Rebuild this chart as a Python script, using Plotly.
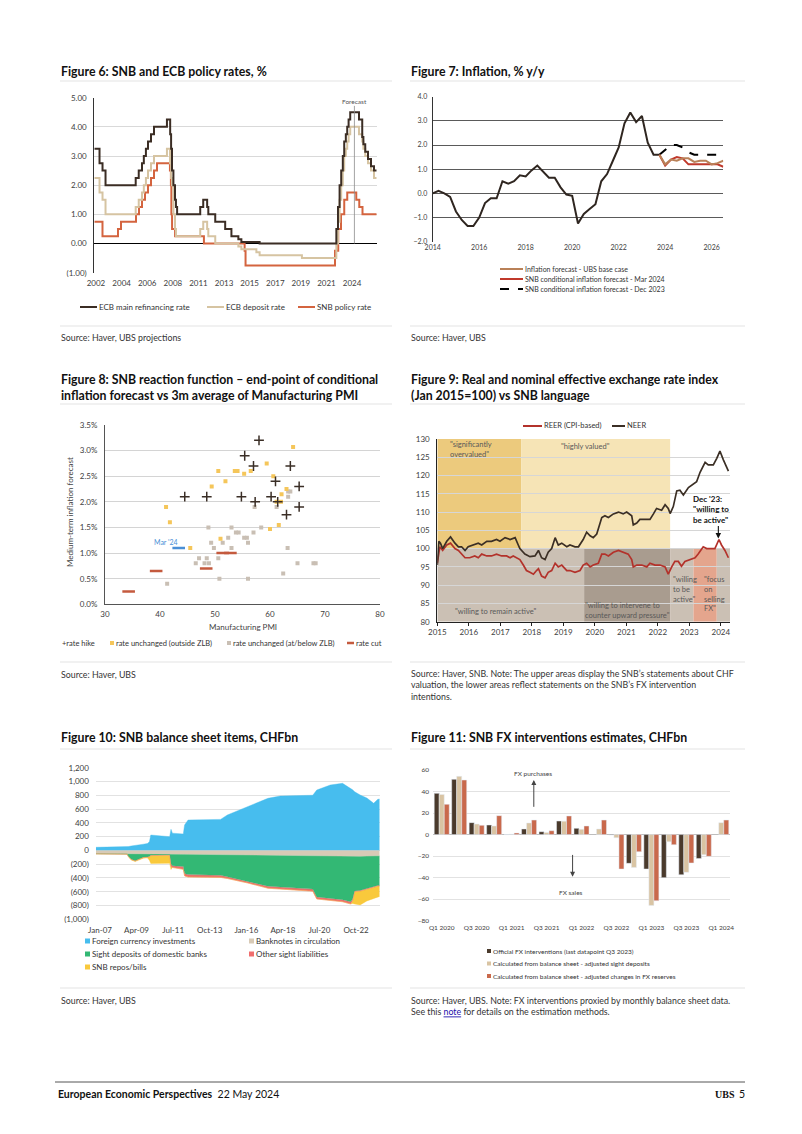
import plotly.graph_objects as go

W, H = 802, 1134
FONT = "Lato"
INK = "#333333"
TICK = "#404040"

# ---------------- Figure 6: policy rates (step series, change dates) ----------------
mro_dates = ["2002-07-01","2002-12-06","2003-03-07","2003-06-06","2005-12-06","2006-03-08","2006-06-15","2006-08-09",
             "2006-10-11","2006-12-13","2007-03-14","2007-06-13","2008-07-09","2008-10-15","2008-11-12","2008-12-10",
             "2009-01-21","2009-03-11","2009-04-08","2009-05-13","2011-04-13","2011-07-13","2011-11-09","2011-12-14",
             "2012-07-11","2013-05-08","2013-11-13","2014-06-11","2014-09-10","2016-03-16","2022-07-27","2022-09-14",
             "2022-11-02","2022-12-21","2023-02-08","2023-03-22","2023-05-10","2023-06-21","2023-08-02","2023-09-20",
             "2024-06-12","2024-09-18","2024-10-23","2024-12-18","2025-03-12","2025-06-11","2025-09-10","2025-11-30"]
mro_vals = [3.25,2.75,2.50,2.00,2.25,2.50,2.75,3.00,3.25,3.50,3.75,4.00,4.25,3.75,3.25,2.50,2.00,1.50,1.25,1.00,
            1.25,1.50,1.25,1.00,0.75,0.50,0.25,0.15,0.05,0.00,0.50,1.25,2.00,2.50,3.00,3.50,3.75,4.00,4.25,4.50,
            4.25,3.65,3.40,3.15,2.90,2.65,2.50,2.50]
dfr_dates = ["2002-07-01","2002-12-06","2003-03-07","2003-06-06","2005-12-06","2006-03-08","2006-06-15","2006-08-09",
             "2006-10-11","2006-12-13","2007-03-14","2007-06-13","2008-07-09","2008-10-09","2008-11-12","2008-12-10",
             "2009-01-21","2009-03-11","2009-04-08","2011-04-13","2011-07-13","2011-11-09","2011-12-14","2012-07-11",
             "2014-06-11","2014-09-10","2015-12-09","2016-03-16","2019-09-18","2022-07-27","2022-09-14","2022-11-02",
             "2022-12-21","2023-02-08","2023-03-22","2023-05-10","2023-06-21","2023-08-02","2023-09-20","2024-06-12",
             "2024-09-18","2024-10-23","2024-12-18","2025-03-12","2025-06-11","2025-09-10","2025-11-30"]
dfr_vals = [2.25,1.75,1.50,1.00,1.25,1.50,1.75,2.00,2.25,2.50,2.75,3.00,3.25,2.75,2.25,2.00,1.00,0.50,0.25,
            0.50,0.75,0.50,0.25,0.00,-0.10,-0.20,-0.30,-0.40,-0.50,0.00,0.75,1.50,2.00,2.50,3.00,3.25,3.50,3.75,
            4.00,3.75,3.50,3.25,3.00,2.75,2.50,2.25,2.25]
snb_dates = ["2002-07-01","2003-03-06","2004-06-17","2004-09-16","2005-12-15","2006-03-16","2006-06-15","2006-09-14",
             "2006-12-14","2007-03-15","2007-06-14","2007-09-13","2008-10-08","2008-11-06","2008-11-20","2008-12-11",
             "2009-03-12","2011-08-03","2014-12-18","2015-01-15","2022-06-16","2022-09-22","2022-12-15","2023-03-23",
             "2023-06-22","2024-03-21","2024-06-20","2024-09-26","2025-11-30"]
snb_vals = [0.75,0.25,0.50,0.75,1.00,1.25,1.50,1.75,2.00,2.25,2.50,2.75,2.50,2.00,1.00,0.50,0.25,0.00,-0.25,-0.75,
            -0.25,0.50,1.00,1.50,1.75,1.50,1.25,1.00,1.00]
f6_tickvals = ["2002-08-21","2004-10-06","2006-11-20","2009-01-05","2011-02-19","2013-04-04","2015-05-19",
               "2017-07-04","2019-08-16","2021-10-01","2023-11-16"]
f6_ticktext = ["2002","2004","2006","2008","2011","2013","2015","2017","2019","2021","2024"]
f6_forecast = "2024-01-25"

# ---------------- Figure 7: inflation ----------------
infl_x = [2014.0,2014.25,2014.5,2014.75,2015.0,2015.25,2015.5,2015.75,2016.0,2016.25,2016.5,2016.75,
          2017.0,2017.25,2017.5,2017.75,2018.0,2018.25,2018.5,2018.75,2019.0,2019.25,2019.5,2019.75,
          2020.0,2020.25,2020.5,2020.75,2021.0,2021.25,2021.5,2021.75,2022.0,2022.25,2022.5,2022.75,
          2023.0,2023.25,2023.5,2023.75]
infl_y = [0.0,0.1,0.0,-0.15,-0.75,-1.1,-1.35,-1.35,-1.0,-0.4,-0.2,-0.2,0.5,0.4,0.5,0.75,0.7,0.95,1.15,0.9,
          0.65,0.65,0.25,-0.05,-0.1,-1.25,-0.85,-0.65,-0.45,0.5,0.8,1.35,1.9,2.9,3.35,2.95,3.2,2.1,1.6,1.6]
fc_x = [2023.75,2024.0,2024.25,2024.5,2024.75,2025.0,2025.25,2025.5,2025.75,2026.0,2026.25,2026.5]
ubs_fc = [1.6,1.2,1.4,1.35,1.45,1.45,1.3,1.35,1.35,1.2,1.25,1.35]
snb_mar24 = [1.6,1.15,1.4,1.5,1.45,1.2,1.2,1.2,1.2,1.2,1.2,1.1]
dec_x = [2023.75,2024.0,2024.25,2024.5,2024.75,2025.0,2025.25,2025.5,2025.75,2026.0,2026.25]
snb_dec23 = [1.6,1.8,2.0,2.0,1.9,1.7,1.6,1.6,1.6,1.6,1.6]

# ---------------- Figure 8: reaction function scatter ----------------
hike_pmi = [44.5,48.5,55.4,58.0,57.0,54.8,57.3,60.2,61.0,61.4,63.7,65.3,65.3,63.0]
hike_inf = [2.1,2.1,2.9,3.2,2.7,2.1,2.0,2.1,2.4,2.0,2.7,2.3,1.9,1.75]
unch_out_pmi = [41.1,41.8,49.4,50.6,51.9,53.6,54.1,55.3,56.5,59.4,60.6,64.2,63.0,62.1,61.6,60.0,45.5,51.0,61.2,62.0]
unch_out_inf = [1.9,1.6,2.3,2.6,2.4,2.6,2.6,2.55,2.6,2.75,2.5,3.07,2.25,2.15,1.55,1.47,1.1,1.28,2.0,2.0]
unch_zlb_pmi = [41.3,46.5,47.1,48.1,48.5,48.9,48.8,49.3,49.8,50.6,50.8,51.4,52.4,53.0,53.0,53.8,54.3,55.3,55.8,
                56.0,56.0,57.0,58.4,57.2,61.2,63.3,63.7,63.3,63.2,62.4,65.0,67.9,68.3]
unch_zlb_inf = [0.4,0.8,0.9,0.8,0.9,0.8,1.5,1.2,1.1,0.9,0.5,1.2,1.3,1.5,1.1,1.4,1.4,1.3,1.3,
                1.2,0.5,1.4,1.5,1.9,1.9,2.2,2.2,2.1,1.1,0.6,0.8,0.8,0.8]
cut_pmi = [34.3,39.3,48.4,51.4,52.8]
cut_inf = [0.25,0.65,0.7,1.0,1.0]
mar24_pmi = [43.4]
mar24_inf = [1.1]
f8_yvals = [0, 0.5, 1, 1.5, 2, 2.5, 3, 3.5]
f8_ylabels = ["0.0%", "0.5%", "1.0%", "1.5%", "2.0%", "2.5%", "3.0%", "3.5%"]

# ---------------- Figure 9: REER / NEER ----------------
neer = [(2015.00,95.5),(2015.05,102),(2015.10,101.5),(2015.17,100),(2015.30,102),(2015.42,103.2),(2015.56,101.5),
        (2015.67,100.5),(2015.77,100.5),(2015.88,99.5),(2015.98,100.5),(2016.14,101),(2016.30,101.5),(2016.41,101),
        (2016.57,102),(2016.72,102),(2016.88,102.5),(2016.99,102),(2017.15,103),(2017.31,102.5),(2017.47,103),
        (2017.57,101),(2017.62,100),(2017.78,98.5),(2017.94,97.8),(2018.10,98),(2018.21,99.5),(2018.31,97.5),
        (2018.42,97),(2018.52,99),(2018.63,100),(2018.74,103),(2018.84,101),(2018.95,101.5),(2019.11,100.5),
        (2019.21,101),(2019.37,100.5),(2019.48,100.5),(2019.63,102.5),(2019.74,104.5),(2019.85,103.5),(2019.95,103),
        (2020.06,104),(2020.22,108.5),(2020.32,109),(2020.43,108.5),(2020.59,109.5),(2020.75,110),(2020.90,109.5),
        (2021.01,110),(2021.17,109),(2021.22,106.5),(2021.33,107),(2021.43,108),(2021.59,108),(2021.75,108),
        (2021.86,109.5),(2021.96,111),(2022.12,110.5),(2022.23,112),(2022.33,111),(2022.39,109.6),(2022.49,111.5),
        (2022.60,115.8),(2022.70,116),(2022.81,114.7),(2022.97,116.7),(2023.13,117.6),(2023.23,118.3),(2023.34,120.9),
        (2023.50,123.6),(2023.60,122.9),(2023.76,122.9),(2023.87,124.7),(2023.97,126.7),(2024.08,124.3),(2024.24,121.2)]
reer = [(2015.00,96),(2015.08,100.5),(2015.17,99.5),(2015.30,101),(2015.42,101.5),(2015.56,100),(2015.67,99.5),
        (2015.77,98.5),(2015.88,97.5),(2016.03,97.5),(2016.19,98),(2016.30,97.5),(2016.41,98.5),(2016.57,98),
        (2016.72,98),(2016.88,98.5),(2017.04,98),(2017.20,98),(2017.31,97.5),(2017.41,98),(2017.52,97.5),
        (2017.62,97),(2017.73,95.5),(2017.83,94),(2017.94,93.5),(2018.05,93),(2018.15,94),(2018.21,94.5),
        (2018.31,92.5),(2018.42,92),(2018.52,93.5),(2018.63,94),(2018.74,96),(2018.84,95),(2018.95,95.5),
        (2019.11,94),(2019.21,94),(2019.37,93.5),(2019.53,94),(2019.63,95.5),(2019.74,96),(2019.85,95),
        (2019.95,95.5),(2020.11,96),(2020.22,98.5),(2020.32,98.5),(2020.43,98),(2020.59,99),(2020.75,99.5),
        (2020.90,99),(2021.06,98.5),(2021.17,97),(2021.22,95),(2021.33,95.5),(2021.49,95.5),(2021.65,95),
        (2021.75,96),(2021.91,95.5),(2022.07,95.5),(2022.23,95),(2022.33,93),(2022.44,95),(2022.54,96.5),
        (2022.65,96.5),(2022.75,95.2),(2022.86,96.5),(2023.02,97),(2023.18,97.5),(2023.28,98.5),(2023.44,100.5),
        (2023.55,100),(2023.65,100),(2023.81,100),(2023.94,102.5),(2024.02,101),(2024.13,99.5),(2024.24,97.5)]
upper_regions = [(2015.0, 2017.66, "#ecca7d"), (2017.66, 2022.39, "#f6e4b6")]
lower_regions = [(2015.0, 2019.66, "#cbc0b4"), (2019.66, 2022.39, "#a99c8f"), (2022.39, 2023.13, "#cbc0b4"),
                 (2023.13, 2023.87, "#e4a58d"), (2023.87, 2024.29, "#cbc0b4")]
dec23_point = (2023.92, 102.8)

# ---------------- Figure 10: SNB balance sheet ----------------
bs_dates = ["2006-10-01","2008-09-01","2008-10-01","2008-12-01","2009-03-01","2009-06-01","2009-09-01","2009-12-01",
            "2010-01-15","2010-02-15","2010-12-01","2011-04-15","2011-05-15","2011-06-15","2012-02-15","2012-03-15",
            "2012-06-01","2014-06-01","2014-11-01","2016-02-01","2017-05-01","2018-02-01","2019-07-01","2020-02-01",
            "2020-05-01","2021-03-01","2021-12-01","2022-06-01","2022-07-15","2022-09-01","2023-01-01","2023-06-01",
            "2023-11-01","2024-02-01","2024-03-15"]
fx_invest = [45,45,55,64,70,80,90,100,125,223,205,199,306,250,238,369,441,450,514,634,756,789,804,800,876,949,
             973,901,880,850,804,760,683,741,746]
banknotes = [-45,-45,-48,-50,-50,-50,-50,-50,-50,-52,-52,-52,-52,-53,-55,-55,-56,-62,-63,-68,-74,-77,-80,-82,-85,
             -88,-90,-90,-89,-88,-86,-83,-80,-78,-78]
sight_dep = [-5,-8,-40,-80,-100,-70,-50,-45,-40,-20,-15,-15,-150,-170,-180,-280,-295,-300,-320,-380,-445,-455,-480,
             -480,-590,-610,-625,-655,-620,-500,-495,-470,-440,-430,-430]
other_sight = [-2,-2,-3,-3,-3,-3,-3,-3,-3,-3,-3,-3,-30,-25,-40,-35,-35,-30,-25,-25,-30,-28,-30,-30,-30,-30,-30,-33,
               -20,-10,-10,-10,-10,-10,-10]
snb_bills = [0,0,0,-5,-10,-15,-10,-10,-50,-115,-118,-118,-45,0,0,0,0,0,0,0,0,0,0,0,0,0,0,0,-40,-180,-200,-170,
             -165,-150,-150]
f10_tickvals = ["2007-01-01","2009-04-01","2011-07-01","2013-10-01","2016-01-01","2018-04-01","2020-07-01","2022-10-01"]
f10_yvals = [-1000,-800,-600,-400,-200,0,200,400,600,800,1000,1200]
f10_ylabels = ["(1,000)","(800)","(600)","(400)","(200)","0","200","400","600","800","1,000","1,200"]

# ---------------- Figure 11: FX interventions ----------------
quarters = ["Q1 2020","Q2 2020","Q3 2020","Q4 2020","Q1 2021","Q2 2021","Q3 2021","Q4 2021","Q1 2022","Q2 2022",
            "Q3 2022","Q4 2022","Q1 2023","Q2 2023","Q3 2023","Q4 2023","Q1 2024"]
official_fx = [38.3,51.3,11.1,8.9,0.0,5.2,2.7,12.6,5.8,None,-0.5,-26.7,-32.0,-40.0,-37.3,-22.2,None]
adj_sight = [37.3,54.1,9.8,8.0,0.3,10.8,2.0,12.5,4.9,5.2,-2.9,-30.5,-65.8,-6.6,-35.1,-18.7,11.1]
adj_reserves = [28.1,50.7,8.6,17.6,1.5,13.5,3.6,17.3,8.0,13.5,-32.0,-15.9,-61.4,-9.4,-26.4,-20.2,13.5]

for a, b in [(mro_dates, mro_vals), (dfr_dates, dfr_vals), (snb_dates, snb_vals), (infl_x, infl_y),
             (fc_x, ubs_fc), (fc_x, snb_mar24), (dec_x, snb_dec23), (hike_pmi, hike_inf),
             (unch_out_pmi, unch_out_inf), (unch_zlb_pmi, unch_zlb_inf), (cut_pmi, cut_inf)]:
    assert len(a) == len(b)
for s in [fx_invest, banknotes, sight_dep, other_sight, snb_bills]:
    assert len(s) == len(bs_dates)

# ---------------- helpers ----------------
def PX(x): return x / W
def PY(y): return 1 - y / H
def dx(a, b): return [a / W, b / W]
def dy(top, bottom): return [1 - bottom / H, 1 - top / H]

annotations, shapes = [], []

def text(x, y, s, size=8, color=INK, xanchor="left", yanchor="middle", family=FONT, align="left", **kw):
    annotations.append(dict(x=PX(x), y=PY(y), xref="paper", yref="paper", text=s, showarrow=False,
                            xanchor=xanchor, yanchor=yanchor, align=align, borderpad=0,
                            font=dict(size=size, color=color, family=family), **kw))

def pline(x0, x1, y0, y1=None, color="#e3e3e3", width=1, dash="solid"):
    if y1 is None:
        y1 = y0
    shapes.append(dict(type="line", xref="paper", yref="paper", x0=PX(x0), x1=PX(x1), y0=PY(y0), y1=PY(y1),
                       line=dict(color=color, width=width, dash=dash)))

def prect(x0, y0, x1, y1, color):
    shapes.append(dict(type="rect", xref="paper", yref="paper", x0=PX(x0), x1=PX(x1), y0=PY(y1), y1=PY(y0),
                       line=dict(width=0), fillcolor=color))

def axis(domain, anchor, size=8, **kw):
    d = dict(domain=domain, anchor=anchor, showgrid=False, zeroline=False, showline=False, ticks="",
             tickfont=dict(size=size, color=TICK, family=FONT), fixedrange=True, tickangle=0, automargin=False)
    d.update(kw)
    return d

fig = go.Figure()

# ---------------- Figure 6 traces ----------------
C_MRO, C_DFR, C_SNB = "#3b2d24", "#d6c4a2", "#d4643f"
fig.add_trace(go.Scatter(x=snb_dates, y=snb_vals, mode="lines", line=dict(color=C_SNB, width=2, shape="hv"),
                         xaxis="x", yaxis="y"))
fig.add_trace(go.Scatter(x=dfr_dates, y=dfr_vals, mode="lines", line=dict(color=C_DFR, width=2, shape="hv"),
                         xaxis="x", yaxis="y"))
fig.add_trace(go.Scatter(x=mro_dates, y=mro_vals, mode="lines", line=dict(color=C_MRO, width=2, shape="hv"),
                         xaxis="x", yaxis="y"))
shapes.append(dict(type="line", xref="x", yref="y", x0=f6_forecast, x1=f6_forecast, y0=0, y1=4.72,
                   line=dict(color="#8c8c8c", width=0.8)))
annotations.append(dict(x=f6_forecast, y=4.86, xref="x", yref="y", text="Forecast", showarrow=False,
                        font=dict(size=6.5, color="#555", family=FONT)))

# ---------------- Figure 7 traces ----------------
fig.add_trace(go.Scatter(x=infl_x, y=infl_y, mode="lines", line=dict(color="#2f2620", width=2),
                         xaxis="x2", yaxis="y2"))
fig.add_trace(go.Scatter(x=dec_x, y=snb_dec23, mode="lines", line=dict(color="#000000", width=2, dash="dash"),
                         xaxis="x2", yaxis="y2"))
fig.add_trace(go.Scatter(x=fc_x, y=snb_mar24, mode="lines", line=dict(color="#c0392b", width=2),
                         xaxis="x2", yaxis="y2"))
fig.add_trace(go.Scatter(x=fc_x, y=ubs_fc, mode="lines", line=dict(color="#b98158", width=2),
                         xaxis="x2", yaxis="y2"))

# ---------------- Figure 8 traces ----------------
C_YEL, C_GRY, C_CUT, C_BLU = "#f5c65a", "#c9bfb4", "#c45a3e", "#4a8fd6"
fig.add_trace(go.Scatter(x=unch_zlb_pmi, y=unch_zlb_inf, mode="markers",
                         marker=dict(symbol="square", size=4, color=C_GRY), xaxis="x3", yaxis="y3"))
fig.add_trace(go.Scatter(x=unch_out_pmi, y=unch_out_inf, mode="markers",
                         marker=dict(symbol="square", size=4, color=C_YEL), xaxis="x3", yaxis="y3"))
fig.add_trace(go.Scatter(x=cut_pmi, y=cut_inf, mode="markers",
                         marker=dict(symbol="line-ew", size=9, line=dict(color=C_CUT, width=2.6)),
                         xaxis="x3", yaxis="y3"))
fig.add_trace(go.Scatter(x=mar24_pmi, y=mar24_inf, mode="markers",
                         marker=dict(symbol="line-ew", size=9, line=dict(color=C_BLU, width=2.6)),
                         xaxis="x3", yaxis="y3"))
fig.add_trace(go.Scatter(x=hike_pmi, y=hike_inf, mode="markers",
                         marker=dict(symbol="cross-thin", size=7, color="#3a2e26", line=dict(color="#3a2e26", width=1.5)),
                         xaxis="x3", yaxis="y3"))
annotations.append(dict(x=41.0, y=1.22, xref="x3", yref="y3", text="Mar '24", showarrow=False,
                        font=dict(size=7, color=C_BLU, family=FONT)))

# ---------------- Figure 9 traces ----------------
for x0, x1, c in upper_regions:
    shapes.append(dict(type="rect", xref="x4", yref="y4", x0=x0, x1=x1, y0=100, y1=130, fillcolor=c,
                       line=dict(width=0), layer="below"))
for x0, x1, c in lower_regions:
    shapes.append(dict(type="rect", xref="x4", yref="y4", x0=x0, x1=x1, y0=80, y1=100, fillcolor=c,
                       line=dict(width=0), layer="below"))
fig.add_trace(go.Scatter(x=[p[0] for p in reer], y=[p[1] for p in reer], mode="lines",
                         line=dict(color="#b3322b", width=1.7), xaxis="x4", yaxis="y4"))
fig.add_trace(go.Scatter(x=[p[0] for p in neer], y=[p[1] for p in neer], mode="lines",
                         line=dict(color="#3b2f25", width=1.7), xaxis="x4", yaxis="y4"))
annotations.append(dict(x=dec23_point[0], y=dec23_point[1], xref="x4", yref="y4", text="", showarrow=True,
                        ax=0, ay=-14, arrowhead=2, arrowsize=1, arrowwidth=1.1, arrowcolor="#111"))

# ---------------- Figure 10 traces ----------------
def area(y, color, group):
    return go.Scatter(x=bs_dates, y=y, mode="lines", stackgroup=group, line=dict(width=0.4, color=color),
                      fillcolor=color, xaxis="x5", yaxis="y5")
fig.add_trace(area(fx_invest, "#47bdee", "pos"))
fig.add_trace(area(banknotes, "#d8cab6", "neg"))
fig.add_trace(area(sight_dep, "#33b874", "neg"))
fig.add_trace(area(other_sight, "#f06e6e", "neg"))
fig.add_trace(area(snb_bills, "#f9c93c", "neg"))

# ---------------- Figure 11 traces ----------------
C_OFF, C_ADS, C_ARS = "#4a3a2c", "#d9c4a3", "#c9694c"
fig.add_trace(go.Bar(x=quarters, y=official_fx, marker_color=C_OFF, xaxis="x6", yaxis="y6"))
fig.add_trace(go.Bar(x=quarters, y=adj_sight, marker_color=C_ADS, xaxis="x6", yaxis="y6"))
fig.add_trace(go.Bar(x=quarters, y=adj_reserves, marker_color=C_ARS, xaxis="x6", yaxis="y6"))
annotations.append(dict(x=5.27, y=50.7, ax=5.27, ay=24.4, xref="x6", yref="y6", axref="x6", ayref="y6",
                        text="", showarrow=True, arrowhead=2, arrowsize=1, arrowwidth=1, arrowcolor="#444"))
annotations.append(dict(x=7.49, y=-39.2, ax=7.49, ay=-17.5, xref="x6", yref="y6", axref="x6", ayref="y6",
                        text="", showarrow=True, arrowhead=2, arrowsize=1, arrowwidth=1, arrowcolor="#444"))

# ---------------- titles, separators, sources ----------------
TS = 12.3
text(60, 71, "<b>Figure 6: SNB and ECB policy rates, %</b>", size=TS, color="#111")
text(410, 71, "<b>Figure 7: Inflation, % y/y</b>", size=TS, color="#111")
text(60, 387, "<b>Figure 8: SNB reaction function – end-point of conditional<br>inflation forecast vs 3m average of Manufacturing PMI</b>",
     size=TS, color="#111")
text(410, 387, "<b>Figure 9: Real and nominal effective exchange rate index<br>(Jan 2015=100) vs SNB language</b>",
     size=TS, color="#111")
text(60, 737, "<b>Figure 10: SNB balance sheet items, CHFbn</b>", size=TS, color="#111")
text(410, 737, "<b>Figure 11: SNB FX interventions estimates, CHFbn</b>", size=TS, color="#111")

for yy in (81, 404, 749):
    pline(60, 392, yy); pline(410, 745, yy)
for yy in (326, 662, 988):
    pline(60, 392, yy); pline(410, 745, yy)

SS = 8.8
text(60, 338, "Source: Haver, UBS projections", size=SS)
text(410, 338, "Source: Haver, UBS", size=SS)
text(60, 674, "Source: Haver, UBS", size=SS)
text(410, 685, "Source: Haver, SNB. Note: The upper areas display the SNB’s statements about CHF<br>"
               "valuation, the lower areas reflect statements on the SNB’s FX intervention<br>intentions.", size=SS)
text(60, 1000, "Source: Haver, UBS", size=SS)
text(410, 1006, "Source: Haver, UBS. Note: FX interventions proxied by monthly balance sheet data.<br>"
                "See this <span style='color:#1a0dab;text-decoration:underline'>note</span> for details on the estimation methods.",
     size=SS)

# ---------------- legends (drawn manually) ----------------
# Fig 6
for x0, c, lab in [(80, C_MRO, "ECB main refinancing rate"), (207, C_DFR, "ECB deposit rate"),
                   (298, C_SNB, "SNB policy rate")]:
    pline(x0, x0 + 17, 307, color=c, width=2)
    text(x0 + 18, 307, lab, size=8)
# Fig 7
for yy, c, dash, lab in [(269, "#b98158", "solid", "Inflation forecast - UBS base case"),
                         (279, "#c0392b", "solid", "SNB conditional inflation forecast - Mar 2024"),
                         (289, "#000000", "dash", "SNB conditional inflation forecast - Dec 2023")]:
    pline(500, 523, yy, color=c, width=2, dash=dash)
    text(524, yy, lab, size=7)
# Fig 8
text(61, 643, "<span style='color:#3a2e26'>+</span>rate hike", size=7.5)
prect(110, 641, 114, 645, C_YEL)
text(115, 643, "rate unchanged (outside ZLB)", size=7.5)
prect(227, 641, 231, 645, C_GRY)
text(232, 643, "rate unchanged (at/below ZLB)", size=7.5)
pline(347, 354, 643, color=C_CUT, width=2.5)
text(355, 643, "rate cut", size=7.5)
# Fig 9
pline(523, 542, 426, color="#b3322b", width=2)
text(543, 426, "REER (CPI-based)", size=7.5)
pline(612, 625, 426, color="#3b2f25", width=2)
text(626, 426, "NEER", size=7.5)
# Fig 10
for (x0, yy, c, lab) in [(85, 941, "#47bdee", "Foreign currency investments"),
                         (249, 941, "#d8cab6", "Banknotes in circulation"),
                         (85, 954, "#33b874", "Sight deposits of domestic banks"),
                         (249, 954, "#f06e6e", "Other sight liabilities"),
                         (85, 967, "#f9c93c", "SNB repos/bills")]:
    prect(x0, yy - 2.5, x0 + 5, yy + 2.5, c)
    text(x0 + 6, yy, lab, size=8)
# Fig 11
for yy, c, lab in [(951, C_OFF, "Official FX interventions (last datapoint Q3 2023)"),
                   (963.5, C_ADS, "Calculated from balance sheet - adjusted sight deposits"),
                   (976, C_ARS, "Calculated from balance sheet - adjusted changes in FX reserves")]:
    prect(487, yy - 2, 491, yy + 2, c)
    text(492, yy, lab, size=6.5)

# ---------------- in-chart texts ----------------
text(533, 773, "FX purchases", size=6.5, color="#444", xanchor="center")
text(571, 892, "FX sales", size=6.5, color="#444", xanchor="center")
text(70, 512, "Medium-term inflation forecast", size=8, color="#444", xanchor="center", textangle=-90)
text(243, 627, "Manufacturing PMI", size=8, color="#444", xanchor="center")
G9 = "#595959"
text(449, 449.5, '"significantly<br>overvalued"', size=7.5, color=G9)
text(585, 446.5, '"highly valued"', size=7.5, color=G9, xanchor="center")
text(496, 611.5, '"willing to remain active"', size=7.5, color=G9, xanchor="center")
text(584, 610, '"willing to intervene to<br>counter upward pressure"', size=7.5, color=G9)
text(672, 589, '"willing<br>to be<br>active"', size=7.5, color=G9)
text(703, 593.5, '"focus<br>on<br>selling<br>FX"', size=7.5, color=G9)
text(692, 509, "<b>Dec '23:<br>\"willing to<br>be active\"</b>", size=8, color="#111")

# ---------------- footer ----------------
pline(55, 745, 1082, color="#555555", width=1)
text(57, 1094, "<b>European Economic Perspectives</b>  22 May 2024", size=10.5, color="#111")
text(736, 1094, "<b>UBS</b>", size=10, color="#111", xanchor="right", family="Liberation Serif")
text(746, 1094, "5", size=10.5, color="#111", xanchor="right")

# ---------------- layout ----------------
fig.update_layout(
    width=W, height=H, margin=dict(l=0, r=0, t=0, b=0, autoexpand=False), paper_bgcolor="white",
    plot_bgcolor="white",
    showlegend=False, font=dict(family=FONT, color=INK), barmode="group", bargap=0.14, bargroupgap=0.0,
    annotations=annotations, shapes=shapes,
    xaxis=axis(dx(94.3, 376.7), "y", type="date", range=["2002-07-01", "2025-11-30"],
               tickmode="array", tickvals=f6_tickvals, ticktext=f6_ticktext, ticklabelstandoff=4),
    yaxis=axis(dy(97.7, 272.7), "x", range=[-1, 5], tickmode="array", tickvals=[-1, 0, 1, 2, 3, 4, 5],
               ticktext=["(1.00)", "0.00", "1.00", "2.00", "3.00", "4.00", "5.00"], showgrid=True,
               gridcolor="#d9d9d9", showline=True, linecolor="#333", linewidth=1, zeroline=True,
               zerolinecolor="#000", zerolinewidth=1, ticklabelstandoff=5),
    xaxis2=axis(dx(432.7, 723.3), "y2", size=7, range=[2014, 2026.5], tickmode="array",
                tickvals=[2014, 2016, 2018, 2020, 2022, 2024, 2026]),
    yaxis2=axis(dy(96.7, 241.7), "x2", size=7, range=[-2, 4], tickmode="array",
                tickvals=[-2, -1, 0, 1, 2, 3, 4], tickformat=".1f", showgrid=True, gridcolor="#5a5a5a",
                showline=True, linecolor="#333", ticklabelstandoff=3),
    xaxis3=axis(dx(105, 380), "y3", range=[30, 80], tickmode="array", tickvals=[30, 40, 50, 60, 70, 80],
                showline=True, linecolor="#555", ticklabelstandoff=2),
    yaxis3=axis(dy(425, 604.3), "x3", range=[0, 3.5], tickmode="array", tickvals=f8_yvals,
                ticktext=f8_ylabels, showgrid=True, gridcolor="#d4d4d4", showline=True, linecolor="#555",
                ticklabelstandoff=5),
    xaxis4=axis(dx(437.3, 730), "y4", range=[2015, 2024.29], tickmode="array",
                tickvals=[2015, 2016, 2017, 2018, 2019, 2020, 2021, 2022, 2023, 2024], showline=True,
                linecolor="#222", ticks="outside", ticklen=3, tickcolor="#222"),
    yaxis4=axis(dy(439, 621.7), "x4", range=[80, 130], tickmode="array",
                tickvals=[80, 85, 90, 95, 100, 105, 110, 115, 120, 125, 130], showgrid=True,
                gridcolor="#d6d6d6", showline=True, linecolor="#222", ticklabelstandoff=5),
    xaxis5=axis(dx(95.9, 379.7), "y5", type="date", range=["2006-10-01", "2024-03-15"], tickmode="array",
                tickvals=f10_tickvals, tickformat="%b-%y", ticklabelstandoff=5),
    yaxis5=axis(dy(767.7, 919.3), "x5", range=[-1000, 1200], tickmode="array", tickvals=f10_yvals,
                ticktext=f10_ylabels, showgrid=True, gridcolor="#e2e2e2", ticklabelstandoff=6),
    xaxis6=axis(dx(433, 730), "y6", size=6.5, type="category", categoryorder="array", categoryarray=quarters,
                range=[-0.5, 16.5], tickmode="array", tickvals=quarters[::2], ticklabelstandoff=2),
    yaxis6=axis(dy(770, 920.7), "x6", size=6.5, range=[-80, 60], tickmode="array",
                tickvals=[-80, -60, -40, -20, 0, 20, 40, 60], showgrid=True, gridcolor="#e2e2e2",
                zeroline=True, zerolinecolor="#bdbdbd", zerolinewidth=1, ticklabelstandoff=3),
)

fig.write_html("out.html", config={"displayModeBar": False},
               post_script="document.body.style.margin='0';document.body.style.overflow='hidden';")
